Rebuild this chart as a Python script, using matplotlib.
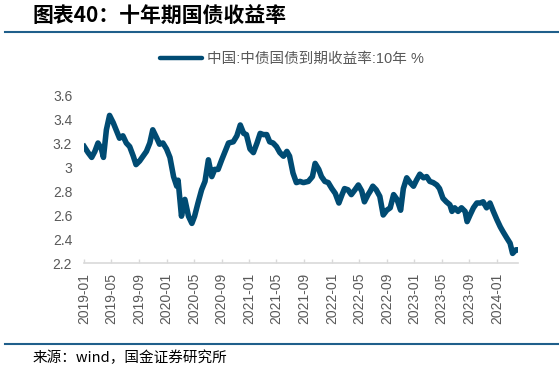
#!/usr/bin/env python3
"""
China 10y government bond yield (chinabond), 2019-01 -> 2024-03
"""
import matplotlib

matplotlib.use("Agg")
import matplotlib.dates as mdates
import matplotlib.pyplot as plt
import matplotlib.ticker as mticker
import pandas as pd
from matplotlib.lines import Line2D

plt.rcParams["font.family"] = ["Liberation Sans", "Noto Sans CJK SC", "DejaVu Sans"]

# %% data
dates = [
    "2019-01-02", "2019-01-19", "2019-02-04", "2019-02-18", "2019-03-04",
    "2019-03-19", "2019-03-28", "2019-04-10", "2019-04-24", "2019-05-10",
    "2019-05-25", "2019-06-07", "2019-06-22", "2019-07-07", "2019-07-22",
    "2019-08-07", "2019-08-19", "2019-09-04", "2019-09-19", "2019-10-04",
    "2019-10-19", "2019-11-01", "2019-11-19", "2019-12-01", "2019-12-16",
    "2020-01-01", "2020-01-16", "2020-02-01", "2020-02-15", "2020-02-21",
    "2020-03-07", "2020-03-22", "2020-04-07", "2020-04-22", "2020-05-04",
    "2020-05-19", "2020-06-04", "2020-06-19", "2020-07-04", "2020-07-19",
    "2020-08-01", "2020-08-16", "2020-09-01", "2020-09-16", "2020-10-01",
    "2020-10-22", "2020-11-07", "2020-11-22", "2020-12-07", "2020-12-19",
    "2021-01-04", "2021-01-19", "2021-02-04", "2021-02-18", "2021-03-04",
    "2021-03-19", "2021-04-01", "2021-04-16", "2021-05-01", "2021-05-16",
    "2021-06-01", "2021-06-16", "2021-06-28", "2021-07-13", "2021-07-28",
    "2021-08-13", "2021-08-28", "2021-09-19", "2021-10-07", "2021-10-19",
    "2021-11-04", "2021-11-16", "2021-12-01", "2021-12-16", "2022-01-01",
    "2022-01-16", "2022-02-01", "2022-02-15", "2022-02-26", "2022-03-13",
    "2022-03-28", "2022-04-13", "2022-04-28", "2022-05-13", "2022-05-25",
    "2022-06-10", "2022-06-20", "2022-07-01", "2022-07-16", "2022-08-01",
    "2022-08-16", "2022-09-01", "2022-09-16", "2022-10-01", "2022-10-16",
    "2022-11-01", "2022-11-13", "2022-11-28", "2022-12-13", "2022-12-28",
    "2023-01-10", "2023-01-25", "2023-02-10", "2023-02-24", "2023-03-10",
    "2023-03-25", "2023-04-10", "2023-04-22", "2023-05-07", "2023-05-22",
    "2023-06-07", "2023-06-16", "2023-06-28", "2023-07-13", "2023-07-28",
    "2023-08-13", "2023-08-22", "2023-09-04", "2023-09-19", "2023-10-04",
    "2023-10-19", "2023-11-01", "2023-11-16", "2023-12-01", "2023-12-16",
    "2024-01-01", "2024-01-16", "2024-01-28", "2024-02-13", "2024-02-28",
    "2024-03-10", "2024-03-25", "2024-04-03",
]
yields = [
    3.17, 3.12, 3.08, 3.13, 3.20,
    3.15, 3.08, 3.31, 3.43, 3.37,
    3.30, 3.24, 3.26, 3.20, 3.17,
    3.09, 3.02, 3.05, 3.09, 3.13,
    3.20, 3.31, 3.24, 3.19, 3.20,
    3.15, 3.08, 2.92, 2.84, 2.89,
    2.59, 2.73, 2.59, 2.53, 2.59,
    2.70, 2.81, 2.88, 3.06, 2.92,
    2.98, 2.98, 3.06, 3.13, 3.20,
    3.21, 3.26, 3.35, 3.28, 3.27,
    3.15, 3.12, 3.20, 3.28, 3.27,
    3.27, 3.21, 3.20, 3.17, 3.12,
    3.09, 3.13, 3.09, 2.95, 2.87,
    2.88, 2.87, 2.88, 2.92, 3.03,
    2.98, 2.92, 2.88, 2.87, 2.82,
    2.78, 2.70, 2.77, 2.82, 2.81,
    2.77, 2.81, 2.85, 2.80, 2.71,
    2.77, 2.80, 2.84, 2.81, 2.755,
    2.60, 2.64, 2.66, 2.77, 2.73,
    2.64, 2.82, 2.91, 2.87, 2.84,
    2.89, 2.94, 2.91, 2.92, 2.88,
    2.87, 2.85, 2.82, 2.74, 2.71,
    2.685, 2.63, 2.66, 2.63, 2.66,
    2.63, 2.545, 2.60, 2.66, 2.70,
    2.70, 2.71, 2.66, 2.70, 2.63,
    2.56, 2.50, 2.46, 2.41, 2.365,
    2.28, 2.31, 2.31,
]
yticks = [2.2, 2.4, 2.6, 2.8, 3.0, 3.2, 3.4, 3.6]

title = "图表40：十年期国债收益率"
legend_label = "中国:中债国债到期收益率:10年 %"
source = "来源：wind，国金证券研究所"

# %% plot
navy = "#004b73"
grey_txt = "#595959"
grey_axis = "#d9d9d9"
rule = "#1f5f8b"

ser = pd.Series(yields, index=pd.to_datetime(dates))

fig = plt.figure(figsize=(5.59, 3.73), dpi=100)
ax = fig.add_axes([84 / 559, 1 - 263 / 373, (518 - 84) / 559, (263 - 95) / 373])

ax.plot(ser.index, ser.values, color=navy, linewidth=4, solid_joinstyle="round")

# axis starts on the first of january so that the 2019-01 tick shows
ax.set_xlim(pd.Timestamp("2019-01-01"), ser.index[-1])
ax.set_ylim(yticks[0], yticks[-1])
ax.set_yticks(yticks)
ax.yaxis.set_major_formatter(mticker.FormatStrFormatter("%g"))
ax.xaxis.set_major_locator(mdates.MonthLocator(bymonth=[1, 5, 9]))
ax.xaxis.set_major_formatter(mdates.DateFormatter("%Y-%m"))

for spine in ["top", "right", "left"]:
    ax.spines[spine].set_visible(False)
ax.spines["bottom"].set_color(grey_axis)
ax.spines["bottom"].set_linewidth(1.2)
ax.tick_params(axis="y", length=0, pad=8.5, labelsize=10, labelcolor=grey_txt)
ax.tick_params(
    axis="x", direction="in", length=3, width=1, color=grey_axis,
    pad=7, labelsize=10, labelcolor=grey_txt, labelrotation=90,
)

# legend above the plot
handle = Line2D([], [], color=navy, linewidth=3.2, solid_capstyle="round")
fig.legend(
    [handle], [legend_label], loc="center", bbox_to_anchor=(292 / 559, 1 - 59 / 373),
    frameon=False, fontsize=10.5, labelcolor=grey_txt, handlelength=2.9,
    handletextpad=0.35,
)

# title, rules and source
fig.text(33 / 559, 1 - 16 / 373, title, ha="left", va="center", fontsize=15,
         fontweight="bold", fontstyle="italic", color="black",
         family=["Noto Sans CJK SC", "DejaVu Sans"])
fig.add_artist(Line2D([5 / 559, 1], [1 - 32 / 373] * 2, color=rule, linewidth=1.5))
fig.add_artist(Line2D([5 / 559, 1], [1 - 344 / 373] * 2, color=rule, linewidth=1.5))
fig.text(33 / 559, 1 - 358 / 373, source, ha="left", va="center", fontsize=10.5,
         color="black", family=["Noto Sans CJK SC", "DejaVu Sans"])

fig.savefig("out.png", dpi=100)
